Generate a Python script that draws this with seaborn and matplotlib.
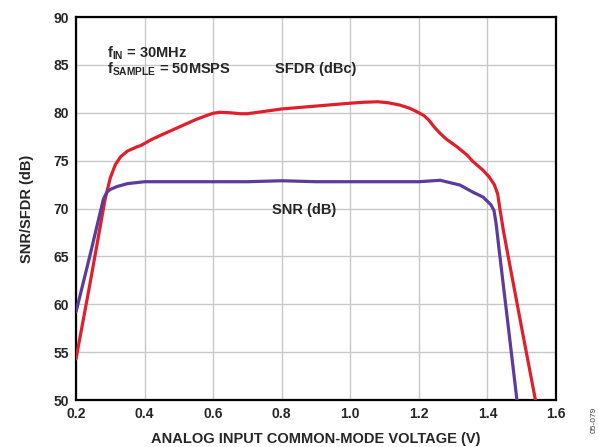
import matplotlib
matplotlib.use("Agg")
import matplotlib.pyplot as plt
import seaborn as sb
import pandas as pd

# SFDR (dBc) vs common-mode voltage
SFDR_V = [0.20, 0.24, 0.27, 0.285, 0.30, 0.315, 0.33, 0.35, 0.375, 0.39, 0.40, 0.42, 0.45,
          0.50, 0.55, 0.58, 0.60, 0.62, 0.65, 0.68, 0.70, 0.75, 0.80, 0.90, 1.00, 1.04,
          1.08, 1.11, 1.145, 1.175, 1.20, 1.215, 1.23, 1.245, 1.262, 1.28, 1.311, 1.34,
          1.358, 1.387, 1.405, 1.42, 1.43, 1.437, 1.447, 1.46, 1.50, 1.54]
SFDR_DB = [54.3, 62.0, 68.0, 71.0, 73.2, 74.6, 75.4, 76.0, 76.4, 76.6, 76.8, 77.2, 77.7,
           78.5, 79.3, 79.7, 79.95, 80.05, 80.0, 79.9, 79.9, 80.15, 80.4, 80.7, 81.0, 81.1,
           81.15, 81.05, 80.8, 80.45, 80.0, 79.7, 79.2, 78.5, 77.85, 77.25, 76.45, 75.6,
           74.9, 74.0, 73.3, 72.5, 71.5, 69.8, 67.6, 65.1, 57.5, 50.0]

# SNR (dB)
SNR_V = [0.20, 0.24, 0.27, 0.28, 0.29, 0.30, 0.32, 0.35, 0.40, 0.50, 0.60, 0.70, 0.80,
         0.90, 1.00, 1.10, 1.20, 1.262, 1.32, 1.358, 1.387, 1.41, 1.419, 1.425, 1.434,
         1.46, 1.486]
SNR_DB = [59.2, 65.0, 69.5, 71.0, 71.7, 72.0, 72.3, 72.6, 72.8, 72.8, 72.8, 72.8, 72.9,
          72.8, 72.8, 72.8, 72.8, 72.95, 72.45, 71.7, 71.2, 70.4, 69.8, 68.5, 65.7,
          57.9, 50.0]

X_TICKS = [0.2, 0.4, 0.6, 0.8, 1.0, 1.2, 1.4, 1.6]
Y_TICKS = [50, 55, 60, 65, 70, 75, 80, 85, 90]

RED = "#e01f2d"
PURPLE = "#5b3c9c"

sb.set_style("white")
plt.rcParams["font.family"] = ["Liberation Sans", "DejaVu Sans"]
plt.rcParams["font.weight"] = "bold"
plt.rcParams["mathtext.fontset"] = "custom"
plt.rcParams["mathtext.rm"] = "Liberation Sans:bold"
plt.rcParams["mathtext.it"] = "Liberation Sans:bold"
plt.rcParams["mathtext.bf"] = "Liberation Sans:bold"
plt.rcParams["mathtext.default"] = "rm"
plt.rcParams["lines.solid_joinstyle"] = "round"

fig = plt.figure(figsize=(5.98, 4.47), dpi=100)
ax = fig.add_axes([0.1271, 0.1051, 0.8027, 0.8568])

sfdr = pd.DataFrame({"v": SFDR_V, "db": SFDR_DB})
snr = pd.DataFrame({"v": SNR_V, "db": SNR_DB})
sb.lineplot(data=sfdr, x="v", y="db", color=RED, lw=2.3, ax=ax, estimator=None, sort=False, zorder=3)
sb.lineplot(data=snr, x="v", y="db", color=PURPLE, lw=2.3, ax=ax, estimator=None, sort=False, zorder=3)

ax.set_xlim(0.2, 1.6)
ax.set_ylim(50, 90)
ax.set_xticks(X_TICKS)
ax.set_yticks(Y_TICKS)
ax.set_xticklabels([f"{t:.1f}" for t in X_TICKS], fontsize=10, fontweight="bold")
ax.set_yticklabels([str(t) for t in Y_TICKS], fontsize=10, fontweight="bold")
ax.tick_params(length=0, pad=5)
ax.grid(True, color="#c8c8c8", lw=1.0)
ax.set_axisbelow(True)
for s in ax.spines.values():
    s.set_color("black")
    s.set_linewidth(1.6)
    s.set_visible(True)

ax.set_xlabel("ANALOG INPUT COMMON-MODE VOLTAGE (V)", fontsize=10.5, fontweight="bold", labelpad=8)
ax.set_ylabel("SNR/SFDR (dB)", fontsize=10.5, fontweight="bold", labelpad=14)

ax.text(0.29, 86.2, "f$_{IN}$ = 30MHz", fontsize=10.5, va="center", ha="left")
ax.text(0.29, 84.5, "f$_{SAMPLE}$ = 50MSPS", fontsize=10.5, va="center", ha="left")
ax.text(0.78, 84.55, "SFDR (dBc)", fontsize=10.5, va="center", ha="left", fontweight="bold")
ax.text(0.772, 69.85, "SNR (dB)", fontsize=10.5, va="center", ha="left", fontweight="bold")

fig.text(0.993, 0.06, "05-079", rotation=90, fontsize=6, fontweight="normal",
         color="#444444", ha="center", va="center")

fig.savefig("out.png", dpi=100)
